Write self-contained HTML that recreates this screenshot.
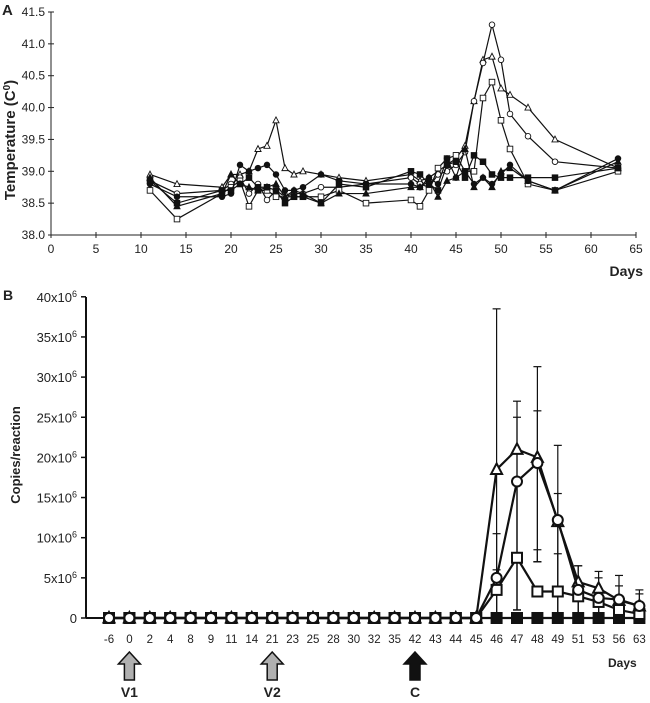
<!DOCTYPE html>
<html><head><meta charset="utf-8"><style>
body{margin:0;background:#fff;font-family:"Liberation Sans",sans-serif}
svg text{font-family:"Liberation Sans",sans-serif;fill:#222}
</style></head><body>
<svg id="s" width="650" height="698">
<text x="2" y="15" font-size="15" font-weight="bold">A</text>
<text x="3" y="300" font-size="14" font-weight="bold">B</text>
<g id="A"></g>
<g id="B"></g>
</svg>
<script>
const NS="http://www.w3.org/2000/svg";
function mk(p,t,a){const e=document.createElementNS(NS,t);for(const k in a)e.setAttribute(k,a[k]);p.appendChild(e);return e;}
// ---- Chart A data
const daysA=[11,14,19,20,21,22,23,24,25,26,27,28,30,32,35,40,41,42,43,44,45,46,47,48,49,50,51,53,56,63];
const tOpenTri=[38.95,38.8,38.75,38.95,38.95,39.0,39.35,39.4,39.8,39.05,38.95,39.0,38.95,38.9,38.85,38.95,38.85,38.9,39.0,39.1,39.2,39.4,40.1,40.75,40.8,40.3,40.2,40.0,39.5,39.05];
const tOpenCirc=[38.85,38.65,38.7,38.8,38.9,38.65,38.8,38.55,38.7,38.6,38.65,38.65,38.75,38.75,38.8,38.9,38.8,38.75,38.95,39.0,39.1,39.3,40.1,40.7,41.3,40.75,39.9,39.55,39.15,39.05];
const tOpenSq=[38.7,38.25,38.65,38.75,38.85,38.45,38.7,38.7,38.6,38.6,38.6,38.6,38.6,38.7,38.5,38.55,38.45,38.7,39.05,39.2,39.25,39.0,39.0,40.15,40.4,39.8,39.35,38.8,38.7,39.0];
const tFillCirc=[38.8,38.6,38.6,38.65,39.1,39.0,39.05,39.1,38.95,38.7,38.7,38.75,38.95,38.85,38.8,38.8,38.75,38.9,38.8,39.2,38.9,39.0,38.8,38.9,38.8,38.95,39.1,38.85,38.7,39.2];
const tFillTri=[38.9,38.45,38.65,38.95,38.8,38.75,38.7,38.75,38.8,38.6,38.7,38.65,38.5,38.65,38.65,38.75,38.75,38.85,38.6,38.85,38.9,39.35,38.75,38.9,38.75,39.0,39.05,38.85,38.7,39.15];
const tFillSq=[38.85,38.5,38.7,38.7,38.8,38.9,38.75,38.75,38.7,38.5,38.6,38.6,38.5,38.8,38.75,39.0,38.95,38.8,38.7,39.1,39.15,38.9,39.25,39.15,38.95,38.9,38.9,38.9,38.9,39.05];
const xTicksA=[0,5,10,15,20,25,30,35,40,45,50,55,60,65];
const yTicksA=[38.0,38.5,39.0,39.5,40.0,40.5,41.0,41.5];
// ---- Chart B data
const catsB=["-6","0","2","4","8","9","11","14","21","23","25","28","30","32","35","42","43","44","45","46","47","48","49","51","53","56","63"];
const z19=[0,0,0,0,0,0,0,0,0,0,0,0,0,0,0,0,0,0,0];
const bTri=z19.concat([18.5,21,20,12,4.5,3.7,2.2,1.5]);
const bCirc=z19.concat([5,17,19.3,12.2,3.5,2.5,2.3,1.5]);
const bSq=z19.concat([3.5,7.5,3.3,3.3,2.7,2,1,0.5]);
const bFill=z19.concat([0,0,0,0,0,0,0,0]);
const errTriHi=z19.concat([38.5,27,31.3,21.5,6.5,5.8,5.3,3.5]);
const errCircHi=z19.concat([10.5,25,25.8,15.5,6.5,5,4,3]);
const errSqHi=z19.concat([6,17,8.5,8,4,3.5,2,1]);
const errLo=z19.concat([0,1,7,0,0,0,0,0]);
const yTicksB=[0,5,10,15,20,25,30,35,40];
const arrowCats=["0","21","42"],arrowLabels=["V1","V2","C"],arrowFills=["#b0b0b0","#b0b0b0","#111"];

// Chart A
const A=document.getElementById('A');
const xa=d=>51+d*9, ya=v=>235-(v-38)*(223/3.5);
mk(A,'line',{x1:51,y1:12,x2:51,y2:235,stroke:'#222','stroke-width':1});
mk(A,'line',{x1:51,y1:235,x2:xa(65),y2:235,stroke:'#222','stroke-width':1});
xTicksA.forEach(t=>{mk(A,'line',{x1:xa(t),y1:232,x2:xa(t),y2:238,stroke:'#222'});
 const e=mk(A,'text',{x:xa(t),y:253,'font-size':12,'text-anchor':'middle'});e.textContent=t;
 });
yTicksA.forEach(t=>{mk(A,'line',{x1:48,y1:ya(t),x2:54,y2:ya(t),stroke:'#222'});
 const e=mk(A,'text',{x:45,y:ya(t)+4,'font-size':12,'text-anchor':'end'});e.textContent=t.toFixed(1);
 });
let yt=mk(A,'text',{x:0,y:0,'font-size':15,'font-weight':'bold','text-anchor':'middle',transform:'translate(15,140) rotate(-90)'});
yt.innerHTML='Temperature (C<tspan dy="-5" font-size="10">0</tspan><tspan dy="5">)</tspan>';

let xt=mk(A,'text',{x:643,y:276,'font-size':14,'font-weight':'bold','text-anchor':'end'});xt.textContent='Days';

function marker(g,shape,fill,x,y,r,sw){
 if(shape==='c')return mk(g,'circle',{cx:x,cy:y,r:r,fill:fill,stroke:'#111','stroke-width':sw});
 if(shape==='s')return mk(g,'rect',{x:x-r,y:y-r,width:2*r,height:2*r,fill:fill,stroke:'#111','stroke-width':sw});
 return mk(g,'polygon',{points:`${x},${y-r*1.2} ${x-r*1.1},${y+r*0.9} ${x+r*1.1},${y+r*0.9}`,fill:fill,stroke:'#111','stroke-width':sw});
}
const seriesA=[[tOpenTri,'t','#fff','open-triangle'],[tOpenCirc,'c','#fff','open-circle'],[tOpenSq,'s','#fff','open-square'],[tFillCirc,'c','#111','filled-circle'],[tFillTri,'t','#111','filled-triangle'],[tFillSq,'s','#111','filled-square']];
seriesA.forEach(([v,sh,f,n])=>{
 const g=mk(A,'g',{});
 mk(g,'polyline',{points:v.map((y,i)=>xa(daysA[i])+','+ya(y)).join(' '),fill:'none',stroke:'#111','stroke-width':1.2});
 v.forEach((y,i)=>{const m=marker(g,sh,f,xa(daysA[i]),ya(y),2.8,0.9);});
});

// Chart B
const B=document.getElementById('B');
const xb=i=>109+i*20.4, yb=v=>618-v*8.03;
mk(B,'line',{x1:86,y1:297,x2:86,y2:618,stroke:'#111','stroke-width':2});
mk(B,'line',{x1:86,y1:618,x2:645,y2:618,stroke:'#111','stroke-width':2});
yTicksB.forEach(t=>{mk(B,'line',{x1:81,y1:yb(t),x2:86,y2:yb(t),stroke:'#111','stroke-width':1.5});
 const e=mk(B,'text',{x:77,y:yb(t)+5,'font-size':13,'text-anchor':'end'});
 e.innerHTML=t===0?'0':t+'x10<tspan dy="-5" font-size="9">6</tspan>';
 });
catsB.forEach((c,i)=>{const e=mk(B,'text',{x:xb(i),y:643,'font-size':11.5,'text-anchor':'middle'});e.textContent=c;
 });
yt=mk(B,'text',{x:0,y:0,'font-size':13,'font-weight':'bold','text-anchor':'middle',transform:'translate(20,455) rotate(-90)'});
yt.textContent='Copies/reaction';
xt=mk(B,'text',{x:608,y:667,'font-size':12,'font-weight':'bold'});xt.textContent='Days';

[[bTri,errTriHi],[bCirc,errCircHi],[bSq,errSqHi]].forEach(([v,hi])=>{
 v.forEach((y,i)=>{if(hi[i]<=y)return;const x=xb(i);
  const g=mk(B,'g',{stroke:'#111','stroke-width':1.2});
  mk(g,'line',{x1:x,y1:yb(hi[i]),x2:x,y2:yb(Math.max(errLo[i],0))});
  mk(g,'line',{x1:x-4,y1:yb(hi[i]),x2:x+4,y2:yb(hi[i])});
  if(errLo[i]>0)mk(g,'line',{x1:x-4,y1:yb(errLo[i]),x2:x+4,y2:yb(errLo[i])});});
});
const seriesB=[[bFill,'s','#111','filled-square'],[bSq,'s','#fff','open-square'],[bTri,'t','#fff','open-triangle'],[bCirc,'c','#fff','open-circle']];
seriesB.forEach(([v,sh,f,n])=>{
 const g=mk(B,'g',{});
 mk(g,'polyline',{points:v.map((y,i)=>xb(i)+','+yb(y)).join(' '),fill:'none',stroke:'#111','stroke-width':2.2});
 v.forEach((y,i)=>{const m=marker(g,sh,f,xb(i),yb(y),5,2);});
});
arrowCats.forEach((c,k)=>{const x=xb(catsB.indexOf(c));
 const g=mk(B,'g',{});
 mk(g,'polygon',{points:`${x},652 ${x+11},664 ${x+5},664 ${x+5},680 ${x-5},680 ${x-5},664 ${x-11},664`,fill:arrowFills[k],stroke:'#111','stroke-width':1.5});
 const t=mk(B,'text',{x:x,y:697,'font-size':14,'font-weight':'bold','text-anchor':'middle'});t.textContent=arrowLabels[k];
 
});
</script>
</body></html>
